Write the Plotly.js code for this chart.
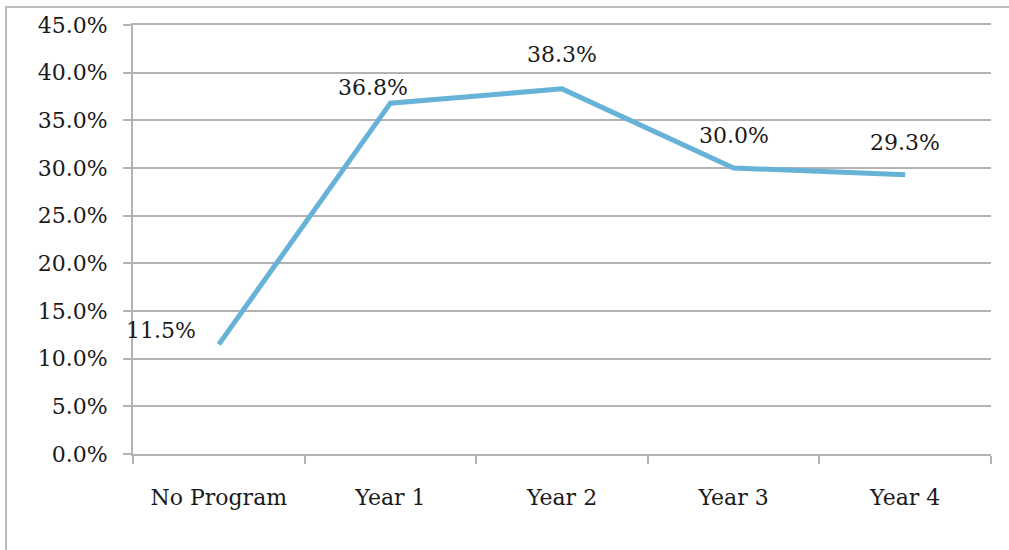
<!DOCTYPE html>
<html><head><meta charset="utf-8">
<script src="https://cdn.plot.ly/plotly-3.0.1.min.js"></script>
<style>
html,body{margin:0;padding:0;background:#fff;overflow:hidden;}
#frame{position:absolute;left:5px;top:6px;width:1010px;height:560px;border-left:2px solid #bdbdbd;border-top:2px solid #bdbdbd;pointer-events:none;}
#chart{position:absolute;left:0;top:0;width:1009px;height:550px;}
</style></head>
<body>
<div id="chart"></div>
<div id="frame"></div>
<script>
const categories = ["No Program", "Year 1", "Year 2", "Year 3", "Year 4"];
const values = [11.5, 36.8, 38.3, 30.0, 29.3];
const yTickVals = [0, 5, 10, 15, 20, 25, 30, 35, 40, 45];
const yTickText = ["0.0%", "5.0%", "10.0%", "15.0%", "20.0%", "25.0%", "30.0%", "35.0%", "40.0%", "45.0%"];
const labelXShift = [-58, -17, 0, 0, 0];
const labelYShift = [14, 16, 34, 33, 32];

const font = {family: "DejaVu Serif, serif", size: 22, color: "#1a1a1a"};

const trace = {
  x: categories, y: values, type: "scatter", mode: "lines",
  line: {color: "#67b3d8", width: 5}, hoverinfo: "skip"
};

const annotations = categories.map((c, i) => ({
  x: c, y: values[i], text: values[i].toFixed(1) + "%",
  showarrow: false, xshift: labelXShift[i], yshift: labelYShift[i],
  font: font, xanchor: "center", yanchor: "middle"
}));

const layout = {
  width: 1009, height: 550,
  margin: {l: 133, r: 18, t: 25, b: 96},
  paper_bgcolor: "#fff", plot_bgcolor: "#fff",
  showlegend: false,
  font: font,
  xaxis: {
    type: "category", range: [-0.5, 4.5],
    showgrid: false, zeroline: false,
    showline: true, mirror: true, linecolor: "#b3b3b3", linewidth: 2,
    ticks: "outside", tickson: "boundaries", ticklen: 8, tickwidth: 2, tickcolor: "#b3b3b3",
    ticklabelstandoff: 23,
    tickfont: font, fixedrange: true
  },
  yaxis: {
    range: [0, 45], tickvals: yTickVals, ticktext: yTickText,
    showgrid: true, gridcolor: "#b3b3b3", gridwidth: 2,
    zeroline: true, zerolinecolor: "#b3b3b3", zerolinewidth: 2,
    showline: true, linecolor: "#b3b3b3", linewidth: 2,
    ticks: "outside", ticklen: 8, tickwidth: 2, tickcolor: "#b3b3b3",
    ticklabelstandoff: 11,
    tickfont: font, fixedrange: true
  },
  annotations: annotations
};

Plotly.newPlot("chart", [trace], layout, {displayModeBar: false, staticPlot: true});
</script>
</body></html>
